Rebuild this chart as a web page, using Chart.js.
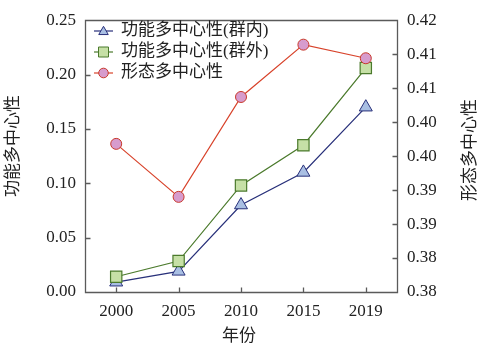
<!DOCTYPE html>
<html>
<head>
<meta charset="utf-8">
<script src="https://cdn.jsdelivr.net/npm/chart.js@4/dist/chart.umd.min.js"></script>
<style>
html,body{margin:0;padding:0;background:#fff;}
#wrap{width:487px;height:355px;position:relative;}
</style>
</head>
<body>
<div id="wrap"><canvas id="c" width="487" height="355"></canvas></div>
<script>
const years = ['2000', '2005', '2010', '2015', '2019'];
const intraValues = [0.009, 0.019, 0.080, 0.110, 0.170];
const interValues = [0.014, 0.0285, 0.098, 0.135, 0.206];
const morphValues = [0.4018, 0.3940, 0.4087, 0.4164, 0.4144];
const leftTickLabels = ['0.00', '0.05', '0.10', '0.15', '0.20', '0.25'];
const rightTickLabels = ['0.38', '0.38', '0.39', '0.39', '0.40', '0.40', '0.41', '0.41', '0.42'];
const seriesNames = ['功能多中心性(群内)', '功能多中心性(群外)', '形态多中心性'];
const xTitle = '年份';
const leftTitle = '功能多中心性';
const rightTitle = '形态多中心性';

const FONT = "'Liberation Serif', 'Noto Sans CJK SC', serif";
const AXIS = '#5a5a5a';

function marker(ctx, style, x, y, r) {
  ctx.beginPath();
  if (style === 'circle') {
    ctx.arc(x, y, r, 0, Math.PI * 2);
  } else if (style === 'rect') {
    ctx.rect(x - r, y - r, 2 * r, 2 * r);
  } else {
    ctx.moveTo(x, y - r);
    ctx.lineTo(x + r * 0.866, y + r * 0.5);
    ctx.lineTo(x - r * 0.866, y + r * 0.5);
    ctx.closePath();
  }
  ctx.fill();
  ctx.stroke();
}

const decor = {
  id: 'decor',
  afterDraw(chart) {
    const ctx = chart.ctx;
    const a = chart.chartArea;
    const x = chart.scales.x, yl = chart.scales.yL, yr = chart.scales.yR;
    const L = Math.round(a.left) + 0.5, R = Math.round(a.right) + 0.5;
    const T = Math.round(a.top) + 0.5, B = Math.round(a.bottom) + 0.5;
    ctx.save();
    ctx.strokeStyle = AXIS;
    ctx.lineWidth = 1.3;
    ctx.beginPath();
    ctx.moveTo(L, T); ctx.lineTo(R, T); ctx.lineTo(R, B); ctx.lineTo(L, B); ctx.closePath();
    const tl = 5;
    for (let i = 0; i < years.length; i++) {
      const px = Math.round(x.getPixelForValue(i)) + 0.5;
      ctx.moveTo(px, B); ctx.lineTo(px, B - tl);
    }
    for (let i = 0; i < leftTickLabels.length; i++) {
      const py = Math.round(yl.getPixelForValue(i * 0.05)) + 0.5;
      ctx.moveTo(L, py); ctx.lineTo(L + tl, py);
    }
    for (let i = 0; i < rightTickLabels.length; i++) {
      const py = Math.round(yr.getPixelForValue(0.38 + i * 0.005)) + 0.5;
      ctx.moveTo(R, py); ctx.lineTo(R - tl, py);
    }
    ctx.stroke();

    ctx.fillStyle = '#222';
    ctx.font = '17px ' + FONT;
    ctx.textAlign = 'center';
    ctx.textBaseline = 'middle';
    ctx.fillText(xTitle, (a.left + a.right) / 2 - 2, 337);
    ctx.save();
    ctx.translate(14, 146);
    ctx.rotate(-Math.PI / 2);
    ctx.fillText(leftTitle, 0, 0);
    ctx.restore();
    ctx.save();
    ctx.translate(471, 150);
    ctx.rotate(-Math.PI / 2);
    ctx.fillText(rightTitle, 0, 0);
    ctx.restore();

    const rows = [31, 52, 73];
    const sizes = [5.5, 5, 4.8];
    chart.data.datasets.forEach((ds, r) => {
      const y = rows[r];
      ctx.strokeStyle = ds.borderColor;
      ctx.lineWidth = 1.2;
      ctx.beginPath();
      ctx.moveTo(94, y); ctx.lineTo(113, y);
      ctx.stroke();
      ctx.fillStyle = ds.pointBackgroundColor;
      ctx.strokeStyle = ds.pointBorderColor;
      ctx.lineWidth = 1;
      marker(ctx, ds.pointStyle, 103.5, y + (ds.pointStyle === 'triangle' ? 0.8 : 0), sizes[r]);
      ctx.fillStyle = '#222';
      ctx.font = '17px ' + FONT;
      ctx.textAlign = 'left';
      ctx.textBaseline = 'middle';
      ctx.fillText(ds.label, 121, y);
    });
    ctx.restore();
  }
};

new Chart(document.getElementById('c'), {
  type: 'line',
  data: {
    labels: years,
    datasets: [
      {
        label: seriesNames[0], data: intraValues, yAxisID: 'yL', order: 3,
        borderColor: '#28307a', borderWidth: 1.2,
        pointStyle: 'triangle', pointRadius: 7.5, pointHoverRadius: 7.5,
        pointBackgroundColor: '#a9bfe3', pointBorderColor: '#28307a', pointBorderWidth: 1
      },
      {
        label: seriesNames[1], data: interValues, yAxisID: 'yL', order: 2,
        borderColor: '#4b7a2c', borderWidth: 1.2,
        pointStyle: 'rect', pointRadius: 8, pointHoverRadius: 8,
        pointBackgroundColor: '#c6e0a6', pointBorderColor: '#4b7a2c', pointBorderWidth: 1.2
      },
      {
        label: seriesNames[2], data: morphValues, yAxisID: 'yR', order: 1,
        borderColor: '#d8432b', borderWidth: 1.2,
        pointStyle: 'circle', pointRadius: 5.5, pointHoverRadius: 5.5,
        pointBackgroundColor: '#d79ccd', pointBorderColor: '#c8392b', pointBorderWidth: 1
      }
    ]
  },
  options: {
    responsive: false,
    animation: false,
    devicePixelRatio: 1,
    layout: { padding: { top: 15.5, left: 0, right: 0, bottom: 0 } },
    plugins: { legend: { display: false }, tooltip: { enabled: false } },
    scales: {
      x: {
        type: 'category', offset: true,
        grid: { display: false, drawTicks: false },
        border: { display: false },
        ticks: { color: '#222', font: { family: FONT, size: 17 }, padding: 9, maxRotation: 0 },
        afterFit(s) { s.height = 63; }
      },
      yL: {
        position: 'left', min: 0, max: 0.25,
        grid: { display: false, drawTicks: false },
        border: { display: false },
        ticks: { stepSize: 0.05, color: '#222', font: { family: FONT, size: 17 }, padding: 9,
          callback: (v, i) => leftTickLabels[i] },
        afterFit(s) { s.width = 85; }
      },
      yR: {
        position: 'right', min: 0.38, max: 0.42,
        grid: { display: false, drawTicks: false },
        border: { display: false },
        ticks: { stepSize: 0.005, color: '#222', font: { family: FONT, size: 17 }, padding: 10,
          callback: (v, i) => rightTickLabels[i] },
        afterFit(s) { s.width = 90; }
      }
    }
  },
  plugins: [decor]
});
</script>
</body>
</html>
